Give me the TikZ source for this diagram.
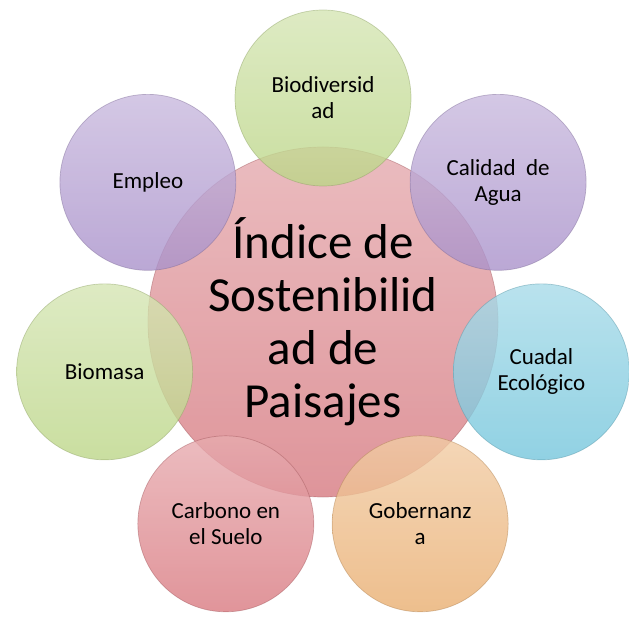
\documentclass[tikz,border=0pt]{standalone}
\usepackage{fontspec}
\setmainfont{Carlito}
\usetikzlibrary{calc}

\definecolor{coreRed}{RGB}{212,115,122}
\definecolor{leafGreen}{RGB}{185,212,130}
\definecolor{lilac}{RGB}{165,140,200}
\definecolor{skyBlue}{RGB}{110,195,218}
\definecolor{apricot}{RGB}{232,170,105}
\definecolor{soilRed}{RGB}{215,115,122}

\begin{document}
\begin{tikzpicture}[x=1pt, y=1pt, line join=round,
  bubble/.style={circle, inner sep=0pt, align=center, line width=0.7pt,
    top color=#1!60!white, bottom color=#1!95!white, draw=#1!75!black,
    fill opacity=0.8, draw opacity=0.45, text opacity=1},
  small/.style={bubble=#1, minimum size=176pt, font=\fontsize{23}{26}\selectfont},
  big/.style={bubble=#1, minimum size=350pt, font=\fontsize{49}{53}\selectfont}]
  % Frame
  \useasboundingbox (0,0) rectangle (629,622);

  % Central index
  \node[big=coreRed] (core) at (323,300) {Índice de\\Sostenibilid\\ad de\\Paisajes};

  % Surrounding components
  \foreach \ang/\name/\col/\txt in {
      90/biodiv/leafGreen/{Biodiversid\\ad},
      38.57/agua/lilac/{Calidad~ de\\Agua},
      -12.86/caudal/skyBlue/{Cuadal\\Ecológico},
      -64.29/gobierno/apricot/{Gobernanz\\a},
      -115.71/carbono/soilRed/{Carbono en\\el Suelo},
      -167.14/biomasa/leafGreen/{Biomasa},
      141.43/empleo/lilac/{Empleo}}
    \node[small=\col] (\name) at ([shift={(\ang:224)}]core.center) {\txt};
\end{tikzpicture}
\end{document}
